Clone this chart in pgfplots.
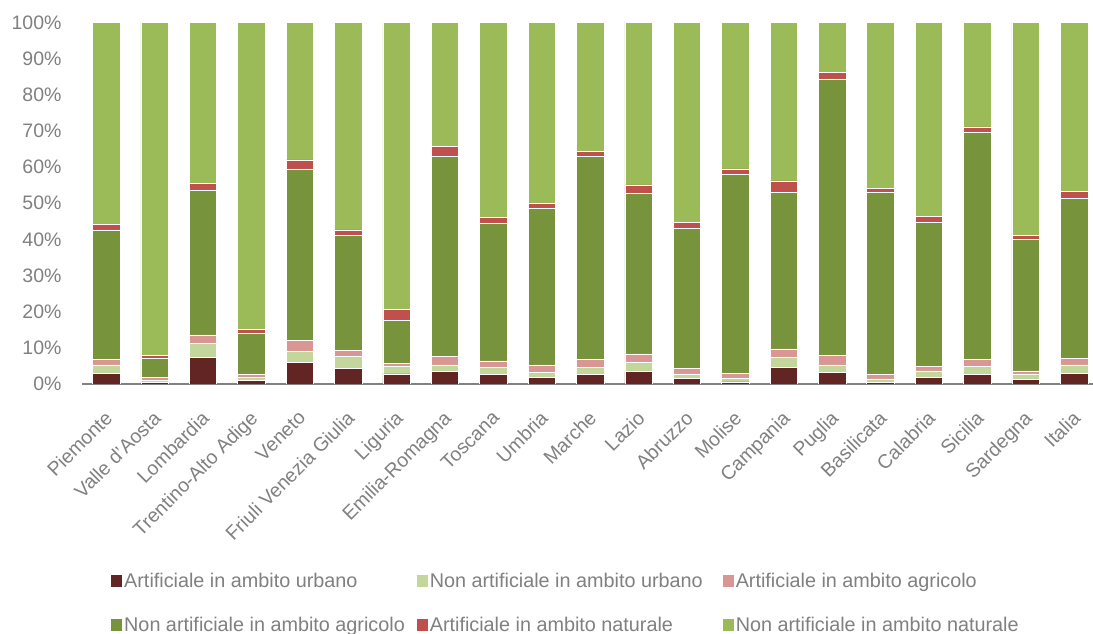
\documentclass[border=0pt]{standalone}
\usepackage{fontspec}
\setmainfont{Liberation Sans}
\usepackage{pgfplots}
\usepackage{pgfplotstable}
\pgfplotsset{compat=1.18}
\definecolor{cAU}{HTML}{632523}
\definecolor{cNU}{HTML}{C3D69B}
\definecolor{cAA}{HTML}{D99694}
\definecolor{cNA}{HTML}{77933C}
\definecolor{cAN}{HTML}{C0504D}
\definecolor{cNN}{HTML}{9BBB59}
\definecolor{tgray}{HTML}{808080}
\pgfplotstableread{
x  a    b    c    d    e   f
0  3.0  2.3  1.6  35.7 1.6 55.8
1  0.4  0.7  0.75 5.35 0.7 92.1
2  7.4  3.9  2.3  39.9 2.1 44.4
3  1.1  0.8  0.8  11.3 1.0 85.0
4  5.9  3.2  2.9  47.4 2.6 38.0
5  4.4  3.3  1.5  31.8 1.6 57.4
6  2.8  2.0  1.0  11.7 3.2 79.3
7  3.4  1.9  2.4  55.2 2.8 34.3
8  2.6  2.1  1.7  38.0 1.7 53.9
9  1.75 1.55 2.0  43.2 1.5 50.0
10 2.6  1.9  2.4  56.0 1.4 35.7
11 3.4  2.7  2.2  44.4 2.4 44.9
12 1.5  1.3  1.6  38.7 1.5 55.4
13 0.6  1.0  1.4  55.0 1.5 40.5
14 4.7  2.6  2.4  43.3 3.2 43.8
15 3.1  2.2  2.7  76.4 1.7 13.9
16 0.55 0.85 1.2  50.4 1.0 46.0
17 1.75 1.85 1.2  39.9 1.6 53.7
18 2.6  2.2  2.1  62.6 1.6 28.9
19 1.2  1.6  0.8  36.5 0.9 59.0
20 3.0  2.3  1.8  44.2 1.9 46.8
}\data
\begin{document}
\begin{tikzpicture}[x=1pt,y=1pt]
\useasboundingbox (0,0) rectangle (1093,634);
\begin{axis}[
  at={(82pt,250pt)}, anchor=south west,
  scale only axis, width=1011pt, height=361.5pt,
  xmin=-0.5, xmax=20.39, ymin=0, ymax=100,
  ybar stacked, bar width=27.5pt,
  axis x line*=bottom, axis y line*=left,
  x axis line style={draw=tgray, line width=2pt},
  y axis line style={draw=none},
  major tick length=0pt,
  xtick={0,...,20},
  xticklabels={Piemonte,Valle d'Aosta,Lombardia,Trentino-Alto Adige,Veneto,Friuli Venezia Giulia,Liguria,Emilia-Romagna,Toscana,Umbria,Marche,Lazio,Abruzzo,Molise,Campania,Puglia,Basilicata,Calabria,Sicilia,Sardegna,Italia},
  ytick={0,10,...,100},
  yticklabel={\pgfmathprintnumber{\tick}\%},
  /pgf/number format/assume math mode=true,
  tick label style={font=\fontsize{19.5}{22}\selectfont, text=tgray},
  yticklabel style={xshift=-17pt},
  xticklabel style={rotate=45, anchor=north east, inner sep=1pt, xshift=-18.8pt, yshift=-15.1pt},
  legend columns=3,
  legend cell align=left,
  legend style={at={(rel axis cs:0.0267,-0.512)}, anchor=north west, draw=none,
    font=\fontsize{19.8}{22}\selectfont, text=tgray, row sep=24pt, inner sep=2pt,
    /tikz/column 2/.style={column sep=10pt},
    /tikz/column 4/.style={column sep=18pt}},
  legend image code/.code={\path[#1,draw=none] (0pt,-6pt) rectangle (11pt,6pt);},
  every axis plot/.append style={draw=white, line width=0.6pt},
]
\addplot[fill=cAU] table[x=x,y=a] {\data};
\addplot[fill=cNU] table[x=x,y=b] {\data};
\addplot[fill=cAA] table[x=x,y=c] {\data};
\addplot[fill=cNA] table[x=x,y=d] {\data};
\addplot[fill=cAN] table[x=x,y=e] {\data};
\addplot[fill=cNN] table[x=x,y=f] {\data};
\legend{Artificiale in ambito urbano,Non artificiale in ambito urbano,Artificiale in ambito agricolo,Non artificiale in ambito agricolo,Artificiale in ambito naturale,Non artificiale in ambito naturale}
\end{axis}
\end{tikzpicture}
\end{document}
